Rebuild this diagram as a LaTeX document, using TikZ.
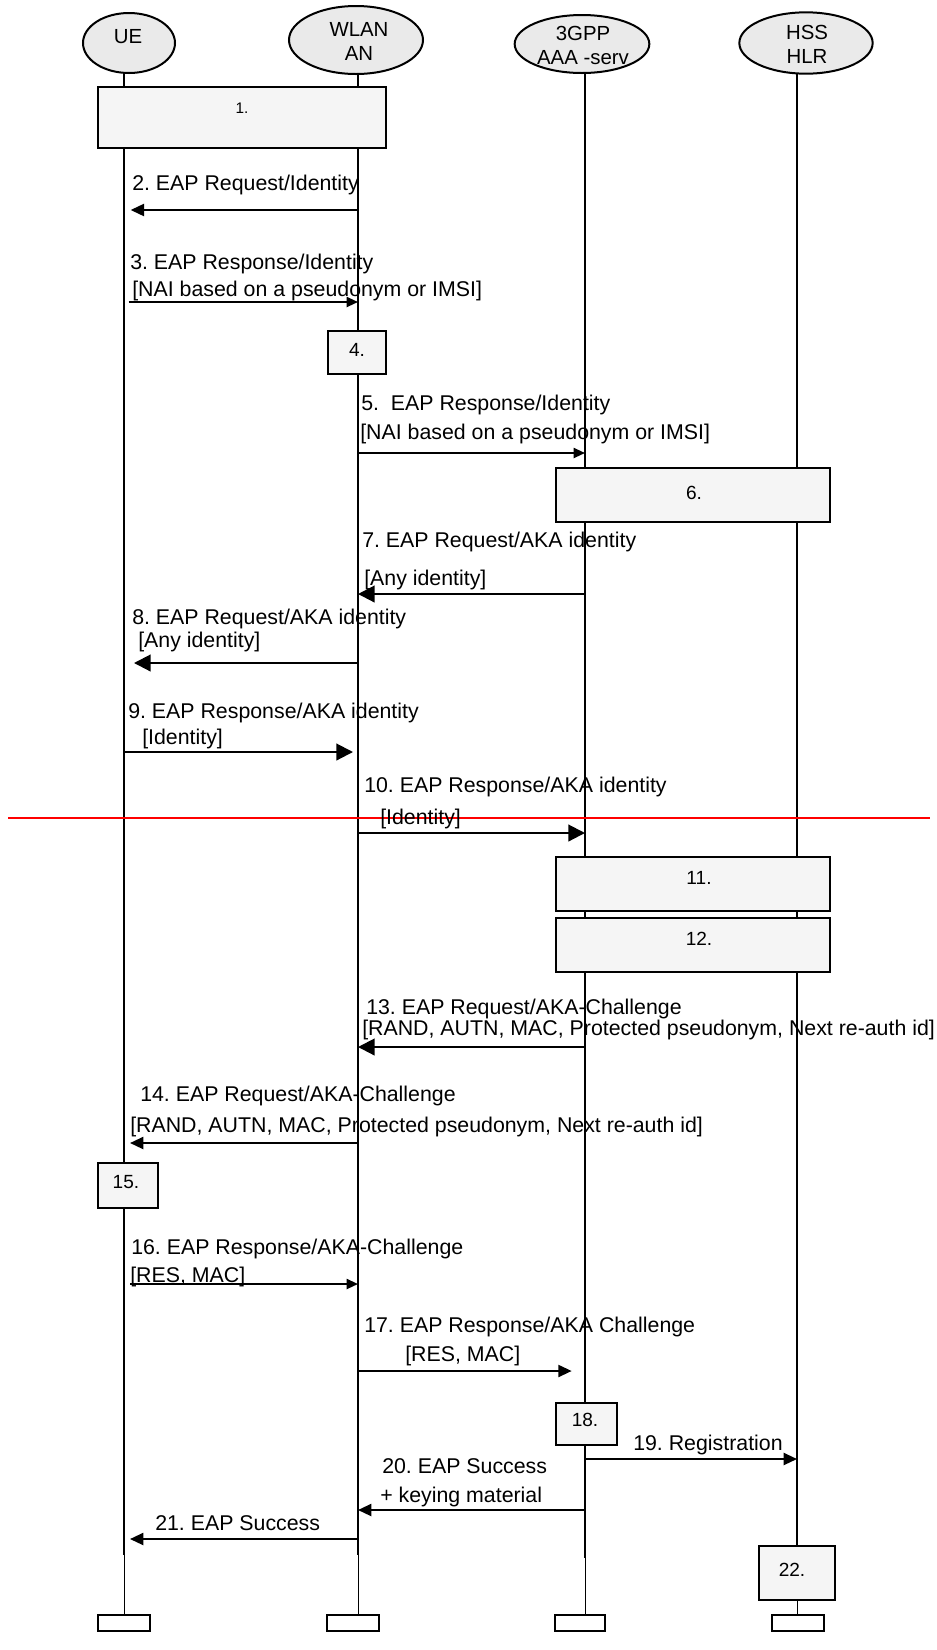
\documentclass[tikz,border=0pt]{standalone}
\usepackage{fontspec}
\setmainfont{Liberation Sans}
\usetikzlibrary{shapes.geometric,arrows.meta}
\definecolor{boxgray}{HTML}{F5F5F5}
\definecolor{entgray}{HTML}{EAEAEA}
\frenchspacing
\begin{document}
\begin{tikzpicture}[x=0.75pt,y=-0.75pt,
  life/.style={line width=1.5pt},
  lifethin/.style={line width=0.75pt},
  msgm/.style={line width=1.6pt,-{Triangle[length=10pt,width=9pt]}},
  msgs/.style={line width=1.5pt,-{Triangle[length=8.5pt,width=7.5pt]}},
  msgl/.style={line width=1.6pt,-{Triangle[length=12.5pt,width=12.5pt]}},
  lbl/.style={anchor=base west,inner sep=0pt,font=\fontsize{16}{19}\selectfont},
  stepbox/.style={draw,line width=1.5pt,fill=boxgray},
  endbox/.style={draw,line width=1.5pt,fill=white},
  ent/.style={ellipse,draw,line width=1.5pt,fill=entgray,inner sep=0pt},
  enttext/.style={align=center,inner sep=0pt,font=\fontsize{15.3}{18}\selectfont},
  boxtext/.style={inner sep=0pt,font=\fontsize{14.3}{17}\selectfont}]
\useasboundingbox (0,0) rectangle (936,1650);

% lifeline reference coordinates
\coordinate (ue) at (124,74);
\coordinate (wlan) at (358,74);
\coordinate (aaa) at (585,73);
\coordinate (hss) at (797,73);

% lifelines (thick part)
\draw[life] (ue) -- (ue |- 0,1555);
\draw[life] (wlan) -- (wlan |- 0,1555);
\draw[life] (aaa) -- (aaa |- 0,1558);
\draw[life] (hss) -- (hss |- 0,1546);
% lifelines (thin part)
\draw[lifethin] (ue |- 0,1555) -- (ue |- 0,1615);
\draw[lifethin] (wlan |- 0,1555) -- (wlan |- 0,1615);
\draw[lifethin] (aaa |- 0,1558) -- (aaa |- 0,1615);
\draw[lifethin] (hss |- 0,1600) -- (hss |- 0,1615);

% entities
\node[ent,minimum width=69pt,minimum height=45pt] (ueE) at (129,43) {};
\node[enttext] (ueT) at (128,37) {UE};
\node[ent,minimum width=100.5pt,minimum height=51pt] (wlanE) at (356,40) {};
\node[enttext] (wlanT) at (359,41.5) {WLAN\\AN};
\node[ent,minimum width=101pt,minimum height=43.5pt] (aaaE) at (582,44) {};
\node[enttext] (aaaT) at (583,45.5) {3GPP\\AAA -serv};
\node[ent,minimum width=100pt,minimum height=46pt] (hssE) at (806,43) {};
\node[enttext] (hssT) at (807,44) {HSS\\HLR};

% end boxes
\draw[endbox] (98,1615) rectangle (150,1631);
\draw[endbox] (327,1615) rectangle (379,1631);
\draw[endbox] (555,1615) rectangle (605,1631);
\draw[endbox] (772,1615) rectangle (824,1631);

% step boxes
\draw[stepbox] (98,87) rectangle (386,148);
\node[inner sep=0pt,font=\fontsize{11.5}{14}\selectfont] (b1) at (242,108) {1.};
\draw[stepbox] (328,331) rectangle (386,374);
\node[boxtext] (b4) at (357,350) {4.};
\draw[stepbox] (556,468) rectangle (830,522);
\node[boxtext] (b6) at (694,493) {6.};
\draw[stepbox] (556,857) rectangle (830,911);
\node[boxtext] (b11) at (699,878) {11.};
\draw[stepbox] (556,918) rectangle (830,972);
\node[boxtext] (b12) at (699,939) {12.};
\draw[stepbox] (98,1163) rectangle (158,1208);
\node[boxtext] (b15) at (126,1182) {15.};
\draw[stepbox] (556,1403) rectangle (617,1445);
\node[boxtext] (b18) at (585,1420) {18.};
\draw[stepbox] (759,1546) rectangle (835,1600);
\node[boxtext] (b22) at (792,1570) {22.};

% red line
\draw[red,line width=1.1pt] (8,818) -- (930,818);

% messages
\draw[msgm,shorten >=5pt] (wlan |- 0,210) -- (ue |- 0,210);
\node[lbl] (m2) at (132,190) {2. EAP Request/Identity};

\draw[msgs,shorten <=3.5pt] (ue |- 0,302) -- (wlan |- 0,302);
\node[lbl] (m3a) at (130,269) {3. EAP Response/Identity};
\node[lbl] (m3b) at (132,296) {[NAI based on a pseudonym or IMSI]};

\draw[msgs] (wlan |- 0,453) -- (aaa |- 0,453);
\node[lbl] (m5a) at (361,410) {5.\ \ EAP Response/Identity};
\node[lbl] (m5b) at (360,439) {[NAI based on a pseudonym or IMSI]};

\draw[msgl] (aaa |- 0,594) -- (wlan |- 0,594);
\node[lbl] (m7a) at (362,547) {7. EAP Request/AKA identity};
\node[lbl] (m7b) at (364,585) {[Any identity]};

\draw[msgl,shorten >=7.5pt] (wlan |- 0,663) -- (ue |- 0,663);
\node[lbl] (m8a) at (132,624) {8. EAP Request/AKA identity};
\node[lbl] (m8b) at (138,647) {[Any identity]};

\draw[msgl,shorten >=3.75pt] (ue |- 0,752) -- (wlan |- 0,752);
\node[lbl] (m9a) at (128,718) {9. EAP Response/AKA identity};
\node[lbl] (m9b) at (142,744) {[Identity]};

\draw[msgl] (wlan |- 0,833) -- (aaa |- 0,833);
\node[lbl] (m10a) at (364,792) {10. EAP Response/AKA identity};
\node[lbl] (m10b) at (380,824) {[Identity]};

\draw[msgl] (aaa |- 0,1047) -- (wlan |- 0,1047);
\node[lbl] (m13a) at (366,1014) {13. EAP Request/AKA-Challenge};
\node[lbl] (m13b) at (362,1035) {[RAND, AUTN, MAC, Protected pseudonym, Next re-auth id]};

\draw[msgm,shorten >=4.5pt] (wlan |- 0,1143) -- (ue |- 0,1143);
\node[lbl] (m14a) at (140,1101) {14. EAP Request/AKA-Challenge};
\node[lbl] (m14b) at (130,1132) {[RAND, AUTN, MAC, Protected pseudonym, Next re-auth id]};

\draw[msgs,shorten <=4.5pt] (ue |- 0,1284) -- (wlan |- 0,1284);
\node[lbl] (m16a) at (131,1254) {16. EAP Response/AKA-Challenge};
\node[lbl] (m16b) at (130,1282) {[RES, MAC]};

\draw[msgm,shorten >=10pt] (wlan |- 0,1371) -- (aaa |- 0,1371);
\node[lbl] (m17a) at (364,1332) {17. EAP Response/AKA Challenge};
\node[lbl] (m17b) at (405,1361) {[RES, MAC]};

\draw[msgm] (aaa |- 0,1459) -- (hss |- 0,1459);
\node[lbl] (m19) at (633,1450) {19. Registration};

\draw[msgm] (aaa |- 0,1510) -- (wlan |- 0,1510);
\node[lbl] (m20a) at (382,1473) {20. EAP Success};
\node[lbl] (m20b) at (380,1502) {+ keying material};

\draw[msgm,shorten >=4.5pt] (wlan |- 0,1539) -- (ue |- 0,1539);
\node[lbl] (m21) at (155,1530) {21. EAP Success};
\end{tikzpicture}
\end{document}
